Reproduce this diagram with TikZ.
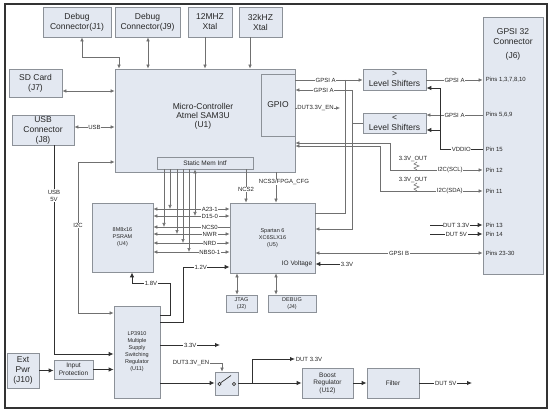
\documentclass[tikz,border=0pt]{standalone}
\usepackage{fontspec}
\setmainfont{Liberation Sans}
\usetikzlibrary{arrows.meta}
\definecolor{boxfill}{HTML}{E3E8F1}
\definecolor{boxline}{HTML}{8C9198}
\definecolor{sigline}{HTML}{707070}
\definecolor{pwrline}{HTML}{303030}
\tikzstyle{block}=[draw=boxline, fill=boxfill, line width=0.8pt, align=center, inner sep=0pt, text=black!85, font=\fontsize{8.5}{10}\selectfont]
\tikzstyle{minor}=[block, font=\fontsize{6.5}{7.5}\selectfont]
\tikzstyle{chip}=[block, font=\fontsize{5.5}{7}\selectfont]
\tikzstyle{sig}=[draw=sigline, line width=0.6pt, >={Latex[length=4pt,width=3.6pt]}]
\tikzstyle{pwr}=[draw=pwrline, line width=0.9pt, >={Latex[length=5pt,width=4.5pt]}]
\tikzstyle{tag}=[inner sep=0.6pt, align=center, text=black!85, font=\fontsize{6}{7}\selectfont]
\tikzstyle{ontag}=[tag, fill=white]

\begin{document}
\begin{tikzpicture}[x=1pt,y=-1pt]
\useasboundingbox (0,0) rectangle (554,414);
\draw[line width=1.6pt, draw=black!80] (5,4) rectangle (547,408);

\node[block, minimum width=68, minimum height=30] (dbgA) at (77,22) {Debug\\Connector(J1)};
\node[block, minimum width=65, minimum height=30] (dbgB) at (147.5,22) {Debug\\Connector(J9)};
\node[block, minimum width=44, minimum height=30] (xtalA) at (210,22) {12MHZ\\Xtal};
\node[block, minimum width=43, minimum height=30] (xtalB) at (260.5,22) {32kHZ\\Xtal};
\node[block, minimum width=53, minimum height=28] (sd) at (35.5,83) {SD Card\\(J7)};
\node[block, minimum width=62, minimum height=30] (usb) at (43,130) {USB\\Connector\\(J8)};

\node[block, minimum width=180, minimum height=103] (mcu) at (205,120.5) {};
\node[tag, font=\fontsize{8.5}{9}\selectfont] (mcuname) at (203,116) {Micro-Controller\\Atmel SAM3U\\(U1)};
\node[block, minimum width=34, minimum height=62] (gpio) at (278,105) {GPIO};
\node[minor, minimum width=96, minimum height=12] (smi) at (205,163) {Static Mem Intf};

\node[block, minimum width=63, minimum height=21] (lsUp) at (394.5,79.5) {>\\Level Shifters};
\node[block, minimum width=63, minimum height=20] (lsDn) at (394.5,123) {<\\Level Shifters};

\node[block, minimum width=60, minimum height=257] (gpsi) at (513,145.5) {};
\node[tag, font=\fontsize{8.5}{10}\selectfont] (gpsiname) at (513,44) {GPSI 32\\Connector\\[4pt](J6)};
\foreach \y/\t [count=\i] in {80/{Pins 1,3,7,8,10}, 115/{Pins 5,6,9}, 149/{Pin 15}, 170/{Pin 12}, 191/{Pin 11}, 225/{Pin 13}, 234/{Pin 14}, 253/{Pins 23-30}}
  \node[tag, anchor=west] (pin\i) at (485,\y) {\t};

\node[chip, minimum width=61, minimum height=69] (psram) at (122.5,237.5) {8M8x16\\PSRAM\\(U4)};
\node[chip, minimum width=85, minimum height=70] (fpga) at (272.5,238) {Spartan 6\\XC6SLX16\\(U5)};
\node[tag, anchor=east, font=\fontsize{6.5}{7.5}\selectfont] (iovtxt) at (313,264) {IO Voltage};
\node[chip, minimum width=31, minimum height=17] (jtag) at (241.5,303.5) {JTAG\\(J2)};
\node[chip, minimum width=48, minimum height=17] (dbgC) at (292,303.5) {DEBUG\\(J4)};
\node[chip, minimum width=46, minimum height=92] (pmic) at (137,352) {LP3910\\Multiple\\Supply\\Switching\\Regulator\\(U11)};

\node[block, minimum width=32, minimum height=35] (extpwr) at (23,370.5) {Ext\\Pwr\\(J10)};
\node[minor, minimum width=39, minimum height=19] (inprot) at (73.5,369.5) {Input\\Protection};
\node[block, minimum width=23, minimum height=23] (sw) at (226.5,383.5) {};
\node[minor, minimum width=51, minimum height=30] (boost) at (327.5,383) {Boost\\Regulator\\(U12)};
\node[minor, minimum width=52, minimum height=30] (filter) at (393,383) {Filter};

\draw[sig,<->] (82,0 |- dbgA.south) |- (119,57) -- (119,0 |- mcu.north);
\draw[sig,<->] (148,0 |- dbgB.south) -- (148,0 |- mcu.north);
\draw[sig,->] (205,0 |- xtalA.south) -- (205,0 |- mcu.north);
\draw[sig,->] (250,0 |- xtalB.south) -- (250,0 |- mcu.north);
\draw[sig,<->] (0,91 -| sd.east) -- (0,91 -| mcu.west);
\draw[sig,<->] (0,127 -| usb.east) -- node[ontag] (usbtag) {USB} (0,127 -| mcu.west);
\draw[sig,<->] (0,162 -| mcu.west) -| node[ontag, pos=0.71] (i2ctag) {I2C} (78,313) -- (0,313 -| pmic.west);
\draw[pwr,->] (54,0 |- usb.south) -- node[ontag, pos=0.24] (usb5tag) {USB\\5V} (54,354) -- (0,354 -| pmic.west);

\draw[sig,->] (0,80 -| gpio.east) -- node[ontag, pos=0.45] (gpsiAtag) {GPSI A} (0,80 -| lsUp.west);
\draw[sig] (345,80) |- (0,213 -| fpga.east);
\draw[sig,->] (lsDn.west) -| (352,90) -- node[ontag, pos=0.5] (gpsiBtag) {GPSI A} (0,90 -| gpio.east);
\draw[sig,->] (352,123) |- (0,229 -| fpga.east);
\draw[sig,->] (0,108 -| gpio.east) -- node[ontag, pos=0.45] (entag) {DUT3.3V\_EN} (340,108);
\draw[sig,->] (0,80 -| lsUp.east) -- node[ontag] (gpsiCtag) {GPSI A} (0,80 -| gpsi.west);
\draw[sig,->] (0,115 -| gpsi.west) -- node[ontag] (gpsiDtag) {GPSI A} (0,115 -| lsDn.east);
\draw[pwr,->] (0,149 -| gpsi.west) -- node[ontag] (vddtag) {VDDIO} (440,149) |- (0,88 -| lsUp.east);
\draw[pwr,->] (440,130) -- (0,130 -| lsDn.east);
\draw[sig,<->] (0,143 -| mcu.east) -| (390,170) -- node[ontag, pos=0.65] (scltag) {I2C(SCL)} (0,170 -| gpsi.west);
\draw[sig,<->] (0,146 -| mcu.east) -| (380,191) -- node[ontag, pos=0.68] (sdatag) {I2C(SDA)} (0,191 -| gpsi.west);
\foreach \y/\e in {159/170, 180/191} {
  \node[tag] (pull\y) at (413,\y) {3.3V\_OUT};
  \draw[sig] (417,\y+3) -- (414,\y+5) -- (419,\y+7) -- (414,\y+9) -- (417,\e);
}
\coordinate (p13) at (430,225);
\coordinate (p14) at (430,234);
\draw[pwr,->] (p13) -- node[ontag] (d33tag) {DUT 3.3V} (p13 -| gpsi.west);
\draw[pwr,->] (p14) -- node[ontag] (d5tag) {DUT 5V} (p14 -| gpsi.west);
\draw[sig,<->] (0,253 -| fpga.east) -- node[ontag] (gpsiEtag) {GPSI B} (0,253 -| gpsi.west);
\coordinate (iov) at (340,264);
\draw[pwr,->] (iov) -- (iov -| fpga.east);
\node[tag, anchor=west] (iovtag) at (iov) {3.3V};

\foreach \y/\t/\a in {209/A23-1/<->, 216/D15-0/<->, 227/NCS0/<-, 234/NWR/<->, 243/NRD/<->, 252/NBS0-1/<->}
  \draw[sig,\a] (0,\y -| psram.east) -- node[ontag, pos=0.74] (bus\y) {\t} (0,\y -| fpga.west);
\foreach \x/\y in {164/227, 170/209, 177/234, 183/243, 189/252}
  \draw[sig,->] (\x,0 |- smi.south) -- (\x,\y);
\draw[sig,<->] (195,0 |- smi.south) -- (195,216);
\draw[sig,->] (246,0 |- smi.south) -- node[ontag, pos=0.6] (ncs2tag) {NCS2} (246,0 |- fpga.north);
\draw[sig,->] (276,0 |- mcu.south) -- (276,0 |- fpga.north);
\node[ontag] (cfgtag) at (284,182) {NCS3/FPGA\_CFG};
\draw[sig,<->] (237,0 |- fpga.south) -- (237,0 |- jtag.north);
\draw[sig,<->] (276,0 |- fpga.south) -- (276,0 |- dbgC.north);

\draw[pwr,->] (extpwr.east) -- (extpwr.east -| inprot.west);
\draw[pwr,->] (inprot.east) -- (inprot.east -| pmic.west);
\draw[pwr,->] (0,315 -| pmic.east) -| (170,283) -- node[ontag] (v18tag) {1.8V} (132,283) -- (132,0 |- psram.south);
\draw[pwr,->] (0,322 -| pmic.east) -| (183,267) -- node[ontag, pos=0.38] (v12tag) {1.2V} (0,267 -| fpga.west);
\coordinate (v33) at (220,345);
\draw[pwr,->] (0,345 -| pmic.east) -- node[ontag] (v33tag) {3.3V} (v33);
\draw[pwr,->] (0,383 -| pmic.east) -- (0,383 -| sw.west);
\node[tag] (swen) at (191,363) {DUT3.3V\_EN};
\draw[sig,->] (swen.east) -| (222,0 |- sw.north);
\draw[pwr, line width=0.7pt, fill=white] (219.5,384) circle (1.7pt) (234,384) circle (1.7pt);
\draw[pwr, line width=0.7pt] (220.7,382.8) -- (231,375.5);
\draw[pwr,->] (0,383 -| sw.east) -- (0,383 -| boost.west);
\coordinate (dut33) at (295,359);
\draw[pwr,->] (252,383) |- (dut33);
\node[tag, anchor=west] (dut33tag) at (dut33) {DUT 3.3V};
\draw[pwr,->] (boost) -- (filter);
\coordinate (dut5) at (472,383);
\draw[pwr,->] (filter) -- node[ontag] (dut5tag) {DUT 5V} (dut5);
\end{tikzpicture}
\end{document}
